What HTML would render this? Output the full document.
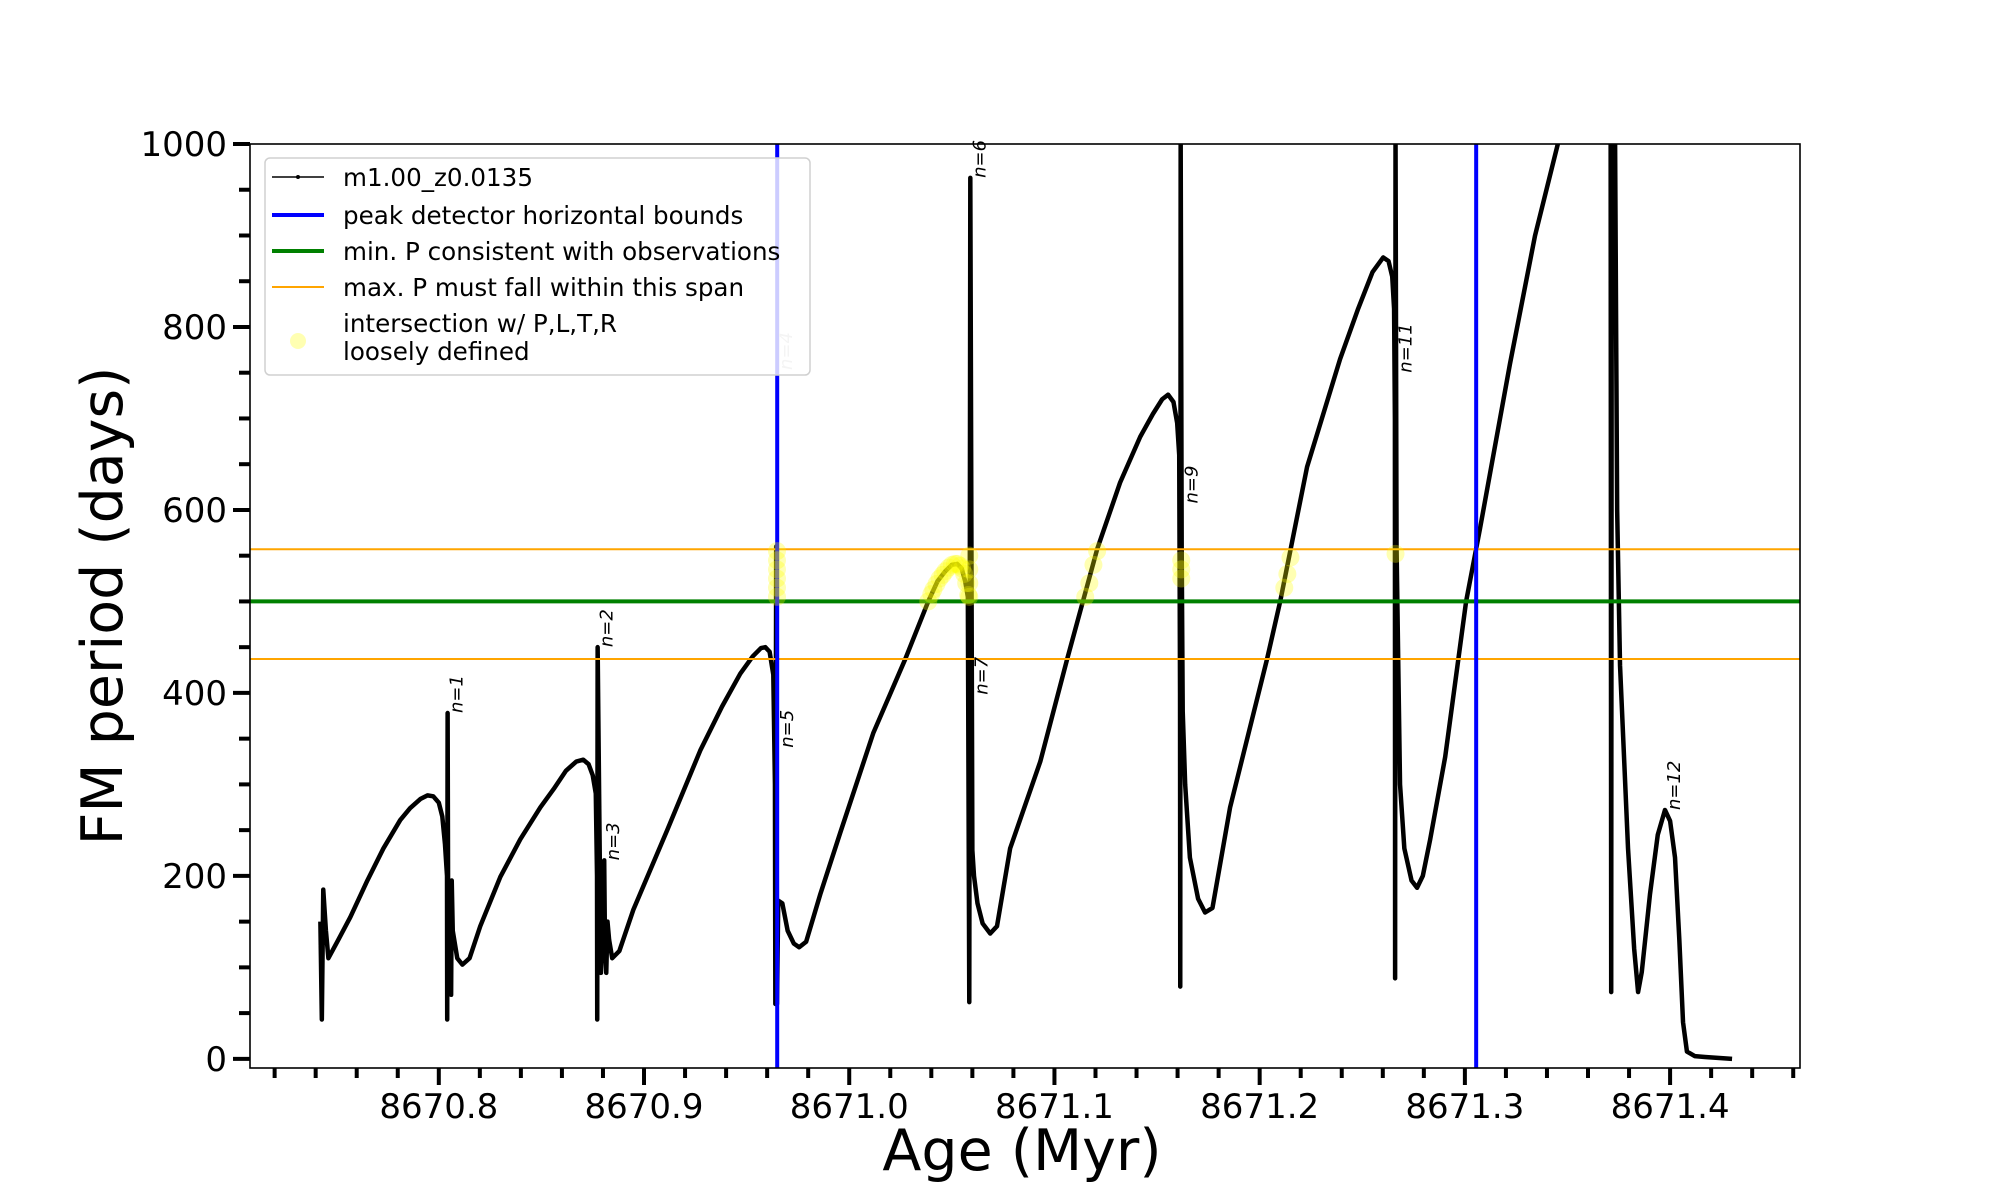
<!DOCTYPE html>
<html><head><meta charset="utf-8"><style>
html,body{margin:0;padding:0;background:#fff;}
svg{display:block;font-family:"DejaVu Sans","Liberation Sans",sans-serif;}
</style></head><body>
<svg id="chart" width="2000" height="1200" viewBox="0 0 2000 1200" xmlns="http://www.w3.org/2000/svg">
<defs><clipPath id="clip"><rect x="250" y="144" width="1550" height="924"/></clipPath></defs>
<rect x="0" y="0" width="2000" height="1200" fill="#fff"/>
<g id="plot" clip-path="url(#clip)"></g>
<g id="labels"></g>
<g id="axes"></g>
<text x="0" y="0" transform="translate(122,606) rotate(-90)" text-anchor="middle" font-size="57">FM period (days)</text>
<text x="1022" y="1170" text-anchor="middle" font-size="57">Age (Myr)</text>
<g id="legend">
 <rect x="265" y="158" width="545" height="217" rx="5" fill="rgba(255,255,255,0.8)" stroke="#d0d0d0" stroke-width="1.5"/>
 <line x1="272" y1="177" x2="324" y2="177" stroke="#000" stroke-width="1.6"/>
 <circle cx="298" cy="177" r="2" fill="#000"/>
 <text x="343" y="186" font-size="24.6">m1.00_z0.0135</text>
 <line x1="272" y1="215" x2="324" y2="215" stroke="#0000ff" stroke-width="4"/>
 <text x="343" y="224" font-size="24.6">peak detector horizontal bounds</text>
 <line x1="272" y1="251" x2="324" y2="251" stroke="#008000" stroke-width="4"/>
 <text x="343" y="260" font-size="24.6">min. P consistent with observations</text>
 <line x1="272" y1="287" x2="324" y2="287" stroke="#ffa500" stroke-width="2"/>
 <text x="343" y="296" font-size="24.6">max. P must fall within this span</text>
 <circle cx="298" cy="341" r="8" fill="rgba(255,255,0,0.3)"/>
 <text x="343" y="332" font-size="24.6">intersection w/ P,L,T,R</text>
 <text x="343" y="360" font-size="24.6">loosely defined</text>
</g>
</svg>
<script>
const xTicks = [8670.8, 8670.9, 8671.0, 8671.1, 8671.2, 8671.3, 8671.4];
const xTickLabels = ["8670.8","8670.9","8671.0","8671.1","8671.2","8671.3","8671.4"];
const yTicks = [0, 200, 400, 600, 800, 1000];
const yTickLabels = ["0","200","400","600","800","1000"];
const ages = [8670.7423,8670.7430,8670.7437,8670.7450,8670.7462,8670.7510,8670.7569,8670.7652,8670.7730,8670.7812,8670.7860,8670.7910,8670.7945,8670.7973,8670.8000,8670.8017,8670.8030,8670.8040,8670.8041,8670.8043,8670.8046,8670.8060,8670.8063,8670.8068,8670.8090,8670.8115,8670.8150,
8670.8202,8670.8300,8670.8397,8670.8495,8670.8560,8670.8620,8670.8670,8670.8704,8670.8730,8670.8750,8670.8765,8670.8771,8670.8772,8670.8774,8670.8790,8670.8806,8670.8810,8670.8816,8670.8822,8670.8830,8670.8845,8670.8880,
8670.8948,8670.9113,8670.9274,8670.9380,8670.9469,8670.9530,8670.9570,8670.9591,8670.9612,8670.9630,8670.9638,8670.9640,8670.9644,8670.9648,8670.9654,8670.9674,8670.9700,8670.9730,8670.9756,8670.9790,
8670.9859,8670.9956,8671.0117,8671.0273,8671.0385,8671.0430,8671.0468,8671.0500,8671.0526,8671.0548,8671.0565,8671.0578,8671.0585,8671.0590,8671.0600,8671.0608,8671.0625,8671.0650,8671.0687,8671.0720,
8671.0784,8671.0931,8671.1062,8671.1208,8671.1320,8671.1418,8671.1480,8671.1525,8671.1554,8671.1580,8671.1598,8671.1608,8671.1612,8671.1613,8671.1615,8671.1620,8671.1625,8671.1637,8671.1660,8671.1700,8671.1734,8671.1770,
8671.1856,8671.2036,8671.2100,8671.2231,8671.2392,8671.2480,8671.2550,8671.2602,8671.2628,8671.2646,8671.2655,8671.2659,8671.2660,8671.2662,8671.2667,8671.2684,8671.2705,8671.2740,8671.2767,8671.2795,
8671.2831,8671.2904,8671.3006,8671.3074,8671.3220,8671.3342,8671.3464,8671.3561,8671.3700,8671.3710,8671.3713,8671.3716,8671.3732,8671.3742,8671.3756,8671.3795,8671.3825,8671.3844,8671.3862,
8671.3902,8671.3940,8671.3975,8671.4000,8671.4024,8671.4045,8671.4063,8671.4082,8671.4120,8671.4170,8671.4302];
const periods = [150,43,185,140,110,130,155,195,230,261,274,284,288,287,280,265,235,200,43,378,120,70,195,140,110,103,110,
145,199,240,275,295,315,325,327,322,310,290,200,43,450,94,217,120,94,150,130,110,118,
163,250,337,385,421,440,449,450,445,420,300,60,560,60,173,170,140,126,122,128,
180,247,356,437,500,522,533,540,541,536,522,505,62,963,228,200,170,148,137,145,
230,325,437,557,630,680,705,721,726,718,695,660,400,79,1010,560,380,300,220,175,160,165,
275,437,500,647,765,820,860,876,872,855,820,700,88,1010,560,300,230,195,187,200,
240,330,500,580,760,900,1010,1100,1100,1100,73,1050,1000,600,430,230,120,73,95,
180,245,272,260,220,130,40,8,3,2,0];
const bounds = [8670.9649, 8671.3055];
const minP = [500];
const maxPSpan = [437, 557];
const yellowAges = [8670.9648,8670.9648,8670.9648,8670.9648,8670.9648,8670.9648,
8671.0385,8671.0400,8671.0410,8671.0425,8671.0440,8671.0455,8671.0468,8671.0485,8671.0500,8671.0515,8671.0526,8671.0540,8671.0550,8671.0560,8671.0570,8671.0580,
8671.0585,8671.0585,8671.0585,8671.0585,
8671.1150,8671.1170,8671.1190,8671.1208,
8671.1618,8671.1618,8671.1618,
8671.2120,8671.2135,8671.2150,8671.2662];
const yellowP = [505,515,525,535,545,555,
500,508,513,519,525,529,533,537,540,541,541,539,536,530,520,507,
505,520,535,550,
505,520,540,555,
525,535,545,
515,530,548,552];
const labelAges = [8670.8043,8670.8774,8670.8806,8670.9648,8670.9654,8671.0590,8671.0600,8671.1625,8671.2667,8671.3975];
const labelP = [378,450,217,753,340,963,398,607,750,272];
const labelText = ["n=1","n=2","n=3","n=4","n=5","n=6","n=7","n=9","n=11","n=12"];
const labelFaded = [0,0,0,1,0,0,0,0,0,0];

const X0=250,X1=1800,Y0=144,Y1=1068;
const xMin=8670.7080,xMax=8671.4633,yMin=-10,yMax=1000;
function sx(v){return X0+(v-xMin)/(xMax-xMin)*(X1-X0);}
function sy(v){return Y1-(v-yMin)/(yMax-yMin)*(Y1-Y0);}
const NS="http://www.w3.org/2000/svg";
function mk(tag,attrs,parent){const e=document.createElementNS(NS,tag);for(const k in attrs)e.setAttribute(k,attrs[k]);parent.appendChild(e);return e;}
const plot=document.getElementById('plot');
const axes=document.getElementById('axes');
const labels=document.getElementById('labels');

let d=ages.map((a,i)=>(i?'L':'M')+sx(a).toFixed(2)+','+sy(periods[i]).toFixed(2)).join(' ');
const curve=mk('path',{d:d,fill:'none',stroke:'#000','stroke-width':4.5,'stroke-linejoin':'round'},plot);



maxPSpan.forEach((p,i)=>{
 const l=mk('line',{x1:X0,x2:X1,y1:sy(p),y2:sy(p),stroke:'#ffa500','stroke-width':2},plot);
 
 
});
minP.forEach(p=>{
 const l=mk('line',{x1:X0,x2:X1,y1:sy(p),y2:sy(p),stroke:'#008000','stroke-width':4},plot);
 
 
});
bounds.forEach((b,i)=>{
 const l=mk('line',{x1:sx(b),x2:sx(b),y1:Y0,y2:Y1,stroke:'#0000ff','stroke-width':4},plot);
 
 
});
yellowAges.forEach((a,i)=>{
 const c=mk('circle',{cx:sx(a),cy:sy(yellowP[i]),r:9,fill:'rgba(255,255,0,0.3)'},plot);
 
 
});
labelAges.forEach((a,i)=>{
 const x=sx(a)+15,y=sy(labelP[i]);
 const t=mk('text',{x:0,y:0,transform:`translate(${x},${y}) rotate(-90)`,'font-size':18,'font-style':'italic',fill:labelFaded[i]?'#c8c8c8':'#000'},labels);
 t.textContent=labelText[i];
 
 
});

const fr=mk('rect',{x:X0,y:Y0,width:X1-X0,height:Y1-Y0,fill:'none',stroke:'#000','stroke-width':1.6},axes);



for(let k=0;k<=38;k++){
 const v=8670.72+k*0.02; if(v>xMax)break;
 const major=xTicks.some(t=>Math.abs(t-v)<1e-6);
 const tk=mk('line',{x1:sx(v),x2:sx(v),y1:Y1,y2:Y1+(major?17:10),stroke:'#000','stroke-width':4},axes);
 
 
}
xTicks.forEach((v,i)=>{
 const t=mk('text',{x:sx(v),y:1118,'text-anchor':'middle','font-size':34},axes);
 t.textContent=xTickLabels[i];
 
 
});
for(let v=0;v<=1000;v+=50){
 const major=yTicks.includes(v);
 const tk=mk('line',{x1:X0-(major?17:11),x2:X0,y1:sy(v),y2:sy(v),stroke:'#000','stroke-width':4},axes);
 
 
}
yTicks.forEach((v,i)=>{
 const t=mk('text',{x:227,y:sy(v)+12,'text-anchor':'end','font-size':34},axes);
 t.textContent=yTickLabels[i];
 
 
});
</script>
</body></html>
